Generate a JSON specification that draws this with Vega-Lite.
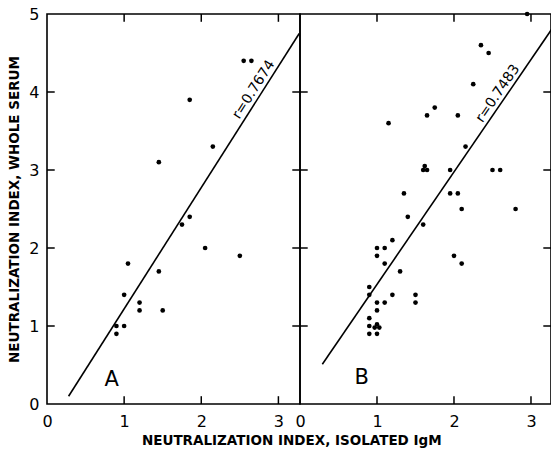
{
  "$schema": "https://vega.github.io/schema/vega-lite/v6.json",
  "background": "white",
  "padding": {"left": 7, "top": 5, "right": 1, "bottom": 2},
  "spacing": 0,
  "bounds": "flush",
  "title": {"text": "NEUTRALIZATION INDEX, ISOLATED IgM", "orient": "bottom", "anchor": "middle", "font": "DejaVu Sans", "fontSize": 13.5, "fontWeight": "bold", "color": "black", "offset": 4, "dx": 12},
  "config": {
    "font": "DejaVu Sans",
    "view": {"stroke": "black", "strokeWidth": 1.6},
    "axis": {"domain": false, "grid": false, "ticks": false, "format": "d", "labelColor": "black", "labelFont": "DejaVu Sans", "labelFontSize": 16, "titleColor": "black", "titleFont": "DejaVu Sans", "titleFontWeight": "bold", "titleFontSize": 13.5}
  },
  "datasets": {
    "points": [
      {"panel": "A", "igm": 2.55, "serum": 4.4},
      {"panel": "A", "igm": 2.65, "serum": 4.4},
      {"panel": "A", "igm": 1.85, "serum": 3.9},
      {"panel": "A", "igm": 2.15, "serum": 3.3},
      {"panel": "A", "igm": 1.45, "serum": 3.1},
      {"panel": "A", "igm": 1.85, "serum": 2.4},
      {"panel": "A", "igm": 1.75, "serum": 2.3},
      {"panel": "A", "igm": 2.05, "serum": 2.0},
      {"panel": "A", "igm": 2.5, "serum": 1.9},
      {"panel": "A", "igm": 1.05, "serum": 1.8},
      {"panel": "A", "igm": 1.45, "serum": 1.7},
      {"panel": "A", "igm": 1.0, "serum": 1.4},
      {"panel": "A", "igm": 1.2, "serum": 1.3},
      {"panel": "A", "igm": 1.2, "serum": 1.2},
      {"panel": "A", "igm": 1.5, "serum": 1.2},
      {"panel": "A", "igm": 0.9, "serum": 1.0},
      {"panel": "A", "igm": 1.0, "serum": 1.0},
      {"panel": "A", "igm": 0.9, "serum": 0.9},
      {"panel": "B", "igm": 2.95, "serum": 5.0},
      {"panel": "B", "igm": 2.35, "serum": 4.6},
      {"panel": "B", "igm": 2.45, "serum": 4.5},
      {"panel": "B", "igm": 2.25, "serum": 4.1},
      {"panel": "B", "igm": 1.75, "serum": 3.8},
      {"panel": "B", "igm": 1.65, "serum": 3.7},
      {"panel": "B", "igm": 2.05, "serum": 3.7},
      {"panel": "B", "igm": 1.15, "serum": 3.6},
      {"panel": "B", "igm": 2.15, "serum": 3.3},
      {"panel": "B", "igm": 1.6, "serum": 3.0},
      {"panel": "B", "igm": 1.65, "serum": 3.0},
      {"panel": "B", "igm": 1.62, "serum": 3.05},
      {"panel": "B", "igm": 1.95, "serum": 3.0},
      {"panel": "B", "igm": 2.5, "serum": 3.0},
      {"panel": "B", "igm": 2.6, "serum": 3.0},
      {"panel": "B", "igm": 1.35, "serum": 2.7},
      {"panel": "B", "igm": 1.95, "serum": 2.7},
      {"panel": "B", "igm": 2.05, "serum": 2.7},
      {"panel": "B", "igm": 2.1, "serum": 2.5},
      {"panel": "B", "igm": 2.8, "serum": 2.5},
      {"panel": "B", "igm": 1.4, "serum": 2.4},
      {"panel": "B", "igm": 1.6, "serum": 2.3},
      {"panel": "B", "igm": 1.2, "serum": 2.1},
      {"panel": "B", "igm": 1.0, "serum": 2.0},
      {"panel": "B", "igm": 1.1, "serum": 2.0},
      {"panel": "B", "igm": 1.0, "serum": 1.9},
      {"panel": "B", "igm": 2.0, "serum": 1.9},
      {"panel": "B", "igm": 1.1, "serum": 1.8},
      {"panel": "B", "igm": 2.1, "serum": 1.8},
      {"panel": "B", "igm": 1.3, "serum": 1.7},
      {"panel": "B", "igm": 0.9, "serum": 1.5},
      {"panel": "B", "igm": 0.9, "serum": 1.4},
      {"panel": "B", "igm": 1.2, "serum": 1.4},
      {"panel": "B", "igm": 1.5, "serum": 1.4},
      {"panel": "B", "igm": 1.0, "serum": 1.3},
      {"panel": "B", "igm": 1.1, "serum": 1.3},
      {"panel": "B", "igm": 1.5, "serum": 1.3},
      {"panel": "B", "igm": 1.0, "serum": 1.2},
      {"panel": "B", "igm": 0.9, "serum": 1.1},
      {"panel": "B", "igm": 0.9, "serum": 1.0},
      {"panel": "B", "igm": 1.0, "serum": 1.02},
      {"panel": "B", "igm": 0.97, "serum": 0.98},
      {"panel": "B", "igm": 1.03, "serum": 0.98},
      {"panel": "B", "igm": 0.9, "serum": 0.9},
      {"panel": "B", "igm": 1.0, "serum": 0.9}
    ],
    "fits": [
      {"panel": "A", "igm": 0.28, "serum": 0.1},
      {"panel": "A", "igm": 3.27, "serum": 4.75},
      {"panel": "B", "igm": 0.29, "serum": 0.51},
      {"panel": "B", "igm": 3.28, "serum": 4.82}
    ],
    "labels": [
      {"panel": "A", "igm": 2.68, "serum": 4.03, "text": "r=0.7674", "kind": "r"},
      {"panel": "A", "igm": 0.84, "serum": 0.31, "text": "A", "kind": "panel"},
      {"panel": "B", "igm": 2.57, "serum": 3.98, "text": "r=0.7483", "kind": "r"},
      {"panel": "B", "igm": 0.8, "serum": 0.33, "text": "B", "kind": "panel"}
    ],
    "xticks": [
      {"igm": 1},
      {"igm": 2},
      {"igm": 3}
    ],
    "yticks": [
      {"serum": 1},
      {"serum": 2},
      {"serum": 3},
      {"serum": 4}
    ]
  },
  "hconcat": [
    {
      "width": 253,
      "height": 390,
      "layer": [
        {
          "data": {"name": "points"},
          "transform": [{"filter": "datum.panel === 'A'"}],
          "mark": {"type": "point", "filled": true, "color": "black", "size": 22, "opacity": 1},
          "encoding": {
            "x": {"field": "igm", "type": "quantitative", "scale": {"domain": [0, 3.28], "nice": false}, "axis": {"orient": "bottom", "values": [0, 1, 2, 3], "labelPadding": 9, "title": null, "labelFlush": false}},
            "y": {"field": "serum", "type": "quantitative", "scale": {"domain": [0, 5], "nice": false}, "axis": {"orient": "left", "values": [0, 1, 2, 3, 4, 5], "labelPadding": 8, "title": "NEUTRALIZATION INDEX, WHOLE SERUM", "titlePadding": 7, "labelFlush": false}}
          }
        },
        {
          "data": {"name": "fits"},
          "transform": [{"filter": "datum.panel === 'A'"}],
          "mark": {"type": "line", "color": "black", "strokeWidth": 1.6, "clip": true},
          "encoding": {
            "x": {"field": "igm", "type": "quantitative"},
            "y": {"field": "serum", "type": "quantitative"}
          }
        },
        {
          "data": {"name": "xticks"},
          "mark": {"type": "rule", "color": "black", "strokeWidth": 1.5},
          "encoding": {"x": {"field": "igm", "type": "quantitative"}, "y": {"datum": 0}, "y2": {"datum": 0.1}}
        },
        {
          "data": {"name": "xticks"},
          "mark": {"type": "rule", "color": "black", "strokeWidth": 1.5},
          "encoding": {"x": {"field": "igm", "type": "quantitative"}, "y": {"datum": 5}, "y2": {"datum": 4.9}}
        },
        {
          "data": {"name": "yticks"},
          "mark": {"type": "rule", "color": "black", "strokeWidth": 1.5},
          "encoding": {"y": {"field": "serum", "type": "quantitative"}, "x": {"datum": 0}, "x2": {"datum": 0.1}}
        },
        {
          "data": {"name": "yticks"},
          "mark": {"type": "rule", "color": "black", "strokeWidth": 1.5},
          "encoding": {"y": {"field": "serum", "type": "quantitative"}, "x": {"datum": 3.28}, "x2": {"datum": 3.18}}
        },
        {
          "data": {"name": "labels"},
          "transform": [{"filter": "datum.panel === 'A' && datum.kind === 'r'"}],
          "mark": {"type": "text", "angle": 302.5, "fontSize": 14, "color": "black", "align": "center", "baseline": "middle"},
          "encoding": {
            "x": {"field": "igm", "type": "quantitative"},
            "y": {"field": "serum", "type": "quantitative"},
            "text": {"field": "text"}
          }
        },
        {
          "data": {"name": "labels"},
          "transform": [{"filter": "datum.panel === 'A' && datum.kind === 'panel'"}],
          "mark": {"type": "text", "fontSize": 21, "color": "black", "align": "center", "baseline": "middle"},
          "encoding": {
            "x": {"field": "igm", "type": "quantitative"},
            "y": {"field": "serum", "type": "quantitative"},
            "text": {"field": "text"}
          }
        }
      ]
    },
    {
      "width": 251,
      "height": 390,
      "layer": [
        {
          "data": {"name": "points"},
          "transform": [{"filter": "datum.panel === 'B'"}],
          "mark": {"type": "point", "filled": true, "color": "black", "size": 22, "opacity": 1},
          "encoding": {
            "x": {"field": "igm", "type": "quantitative", "scale": {"domain": [0, 3.26], "nice": false}, "axis": {"orient": "bottom", "values": [0, 1, 2, 3], "labelPadding": 9, "title": null, "labelFlush": false}},
            "y": {"field": "serum", "type": "quantitative", "scale": {"domain": [0, 5], "nice": false}, "axis": null}
          }
        },
        {
          "data": {"name": "fits"},
          "transform": [{"filter": "datum.panel === 'B'"}],
          "mark": {"type": "line", "color": "black", "strokeWidth": 1.6, "clip": true},
          "encoding": {
            "x": {"field": "igm", "type": "quantitative"},
            "y": {"field": "serum", "type": "quantitative"}
          }
        },
        {
          "data": {"name": "xticks"},
          "mark": {"type": "rule", "color": "black", "strokeWidth": 1.5},
          "encoding": {"x": {"field": "igm", "type": "quantitative"}, "y": {"datum": 0}, "y2": {"datum": 0.1}}
        },
        {
          "data": {"name": "xticks"},
          "mark": {"type": "rule", "color": "black", "strokeWidth": 1.5},
          "encoding": {"x": {"field": "igm", "type": "quantitative"}, "y": {"datum": 5}, "y2": {"datum": 4.9}}
        },
        {
          "data": {"name": "yticks"},
          "mark": {"type": "rule", "color": "black", "strokeWidth": 1.5},
          "encoding": {"y": {"field": "serum", "type": "quantitative"}, "x": {"datum": 0}, "x2": {"datum": 0.1}}
        },
        {
          "data": {"name": "yticks"},
          "mark": {"type": "rule", "color": "black", "strokeWidth": 1.5},
          "encoding": {"y": {"field": "serum", "type": "quantitative"}, "x": {"datum": 3.26}, "x2": {"datum": 3.16}}
        },
        {
          "data": {"name": "labels"},
          "transform": [{"filter": "datum.panel === 'B' && datum.kind === 'r'"}],
          "mark": {"type": "text", "angle": 304.3, "fontSize": 14, "color": "black", "align": "center", "baseline": "middle"},
          "encoding": {
            "x": {"field": "igm", "type": "quantitative"},
            "y": {"field": "serum", "type": "quantitative"},
            "text": {"field": "text"}
          }
        },
        {
          "data": {"name": "labels"},
          "transform": [{"filter": "datum.panel === 'B' && datum.kind === 'panel'"}],
          "mark": {"type": "text", "fontSize": 21, "color": "black", "align": "center", "baseline": "middle"},
          "encoding": {
            "x": {"field": "igm", "type": "quantitative"},
            "y": {"field": "serum", "type": "quantitative"},
            "text": {"field": "text"}
          }
        }
      ]
    }
  ]
}
